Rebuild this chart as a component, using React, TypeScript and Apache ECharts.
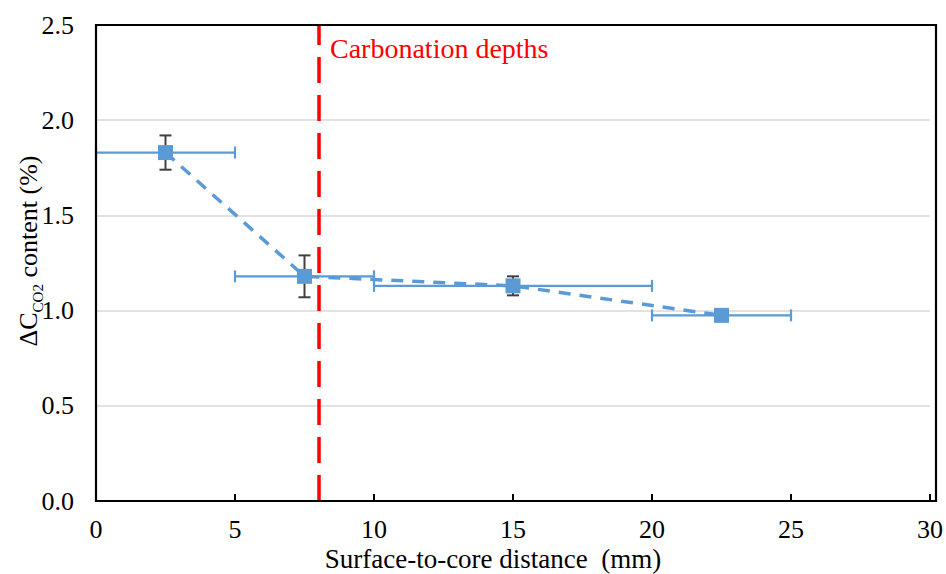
import React, { useEffect, useRef } from "react";
import * as echarts from "echarts";

const xValues = [2.5, 7.5, 15, 22.5];
const yValues = [1.83, 1.18, 1.13, 0.975];
const xErrLow = [0, 5, 10, 20];
const xErrHigh = [5, 10, 20, 25];
const yErr = [0.09, 0.11, 0.05, 0.01];
const carbonationDepth = 8;
const xTicks = [0, 5, 10, 15, 20, 25, 30];
const yTicks = [0, 0.5, 1.0, 1.5, 2.0, 2.5];

const FONT = "Liberation Serif";
const BLUE = "#5B9BD5";

const GRID = { left: 96, right: 10, top: 25, bottom: 73 };
const W = 946;
const H = 574;

export default function App() {
  const ref = useRef<HTMLDivElement>(null);
  useEffect(() => {
    if (!ref.current) return;
    const chart = echarts.init(ref.current, null, { renderer: "svg" });
    const pts = xValues.map((x, i) => [x, yValues[i]]);
    const xErrData = xValues.map((x, i) => [x, yValues[i], xErrLow[i], xErrHigh[i]]);
    const yErrData = xValues.map((x, i) => [x, yValues[i], yValues[i] - yErr[i], yValues[i] + yErr[i]]);
    chart.setOption({
      animation: false,
      textStyle: { fontFamily: FONT },
      grid: GRID,
      xAxis: {
        type: "value",
        min: xTicks[0],
        max: xTicks[xTicks.length - 1],
        interval: 5,
        axisLine: { show: true, onZero: false, lineStyle: { color: "#000", width: 2 } },
        axisTick: { show: true, inside: true, length: 7, lineStyle: { color: "#000", width: 2 } },
        splitLine: { show: false },
        axisLabel: { color: "#000", fontFamily: FONT, fontSize: 26, margin: 15 },
      },
      yAxis: {
        type: "value",
        min: yTicks[0],
        max: yTicks[yTicks.length - 1],
        interval: 0.5,
        axisLine: { show: true, onZero: false, lineStyle: { color: "#000", width: 2 } },
        axisTick: { show: false },
        splitLine: { show: true, lineStyle: { color: "#d9d9d9", width: 1.5 } },
        axisLabel: {
          color: "#000",
          fontFamily: FONT,
          fontSize: 26,
          margin: 22,
          formatter: (v: number) => v.toFixed(1),
        },
      },
      graphic: [
        {
          type: "rect",
          z: 100,
          silent: true,
          shape: {
            x: GRID.left,
            y: GRID.top,
            width: W - GRID.left - GRID.right,
            height: H - GRID.top - GRID.bottom,
          },
          style: { fill: "none", stroke: "#000", lineWidth: 2.2 },
        },
        {
          type: "text",
          x: 28,
          y: 251,
          rotation: Math.PI / 2,
          style: {
            text: "{a|ΔC}{b|CO2}{a| content (%)}",
            align: "center",
            verticalAlign: "middle",
            fill: "#000",
            rich: {
              a: { fontFamily: FONT, fontSize: 26, lineHeight: 34, verticalAlign: "middle", fill: "#000" },
              b: { fontFamily: FONT, fontSize: 15, lineHeight: 24, verticalAlign: "bottom", fill: "#000" },
            },
          },
        },
        {
          type: "text",
          x: 493,
          y: 559,
          style: {
            text: "Surface-to-core distance  (mm)",
            align: "center",
            verticalAlign: "middle",
            fontFamily: FONT,
            fontSize: 27,
            fill: "#000",
          },
        },
        {
          type: "text",
          x: 330,
          y: 48,
          style: {
            text: "Carbonation depths",
            align: "left",
            verticalAlign: "middle",
            fontFamily: FONT,
            fontSize: 28,
            fill: "#FF0000",
          },
        },
      ],
      series: [
        {
          type: "custom",
          name: "xerr",
          z: 2,
          data: xErrData,
          encode: { x: 0, y: 1 },
          renderItem: (params: any, api: any) => {
            const y = api.value(1);
            const lo = api.coord([api.value(2), y]);
            const hi = api.coord([api.value(3), y]);
            const h = 6;
            const st = { stroke: BLUE, lineWidth: 2.2 };
            return {
              type: "group",
              children: [
                { type: "line", shape: { x1: lo[0], y1: lo[1], x2: hi[0], y2: hi[1] }, style: st },
                { type: "line", shape: { x1: lo[0], y1: lo[1] - h, x2: lo[0], y2: lo[1] + h }, style: st },
                { type: "line", shape: { x1: hi[0], y1: hi[1] - h, x2: hi[0], y2: hi[1] + h }, style: st },
              ],
            };
          },
        },
        {
          type: "custom",
          name: "yerr",
          z: 3,
          data: yErrData,
          encode: { x: 0, y: 1 },
          renderItem: (params: any, api: any) => {
            const x = api.value(0);
            const lo = api.coord([x, api.value(2)]);
            const hi = api.coord([x, api.value(3)]);
            const w = 6;
            const st = { stroke: "#404040", lineWidth: 2 };
            return {
              type: "group",
              children: [
                { type: "line", shape: { x1: lo[0], y1: lo[1], x2: hi[0], y2: hi[1] }, style: st },
                { type: "line", shape: { x1: lo[0] - w, y1: lo[1], x2: lo[0] + w, y2: lo[1] }, style: st },
                { type: "line", shape: { x1: hi[0] - w, y1: hi[1], x2: hi[0] + w, y2: hi[1] }, style: st },
              ],
            };
          },
        },
        {
          type: "line",
          name: "data",
          z: 4,
          data: pts,
          symbol: "rect",
          symbolSize: 15,
          itemStyle: { color: BLUE },
          lineStyle: { color: BLUE, width: 3.5, type: [12, 9] },
          markLine: {
            silent: true,
            symbol: "none",
            label: { show: false },
            lineStyle: { color: "#FF0000", width: 3.5, type: [26, 12] },
            data: [{ xAxis: carbonationDepth }],
          },
        },
      ],
    });
    return () => chart.dispose();
  }, []);
  return <div ref={ref} style={{ width: W, height: H, position: "absolute", left: 0, top: 0 }} />;
}
